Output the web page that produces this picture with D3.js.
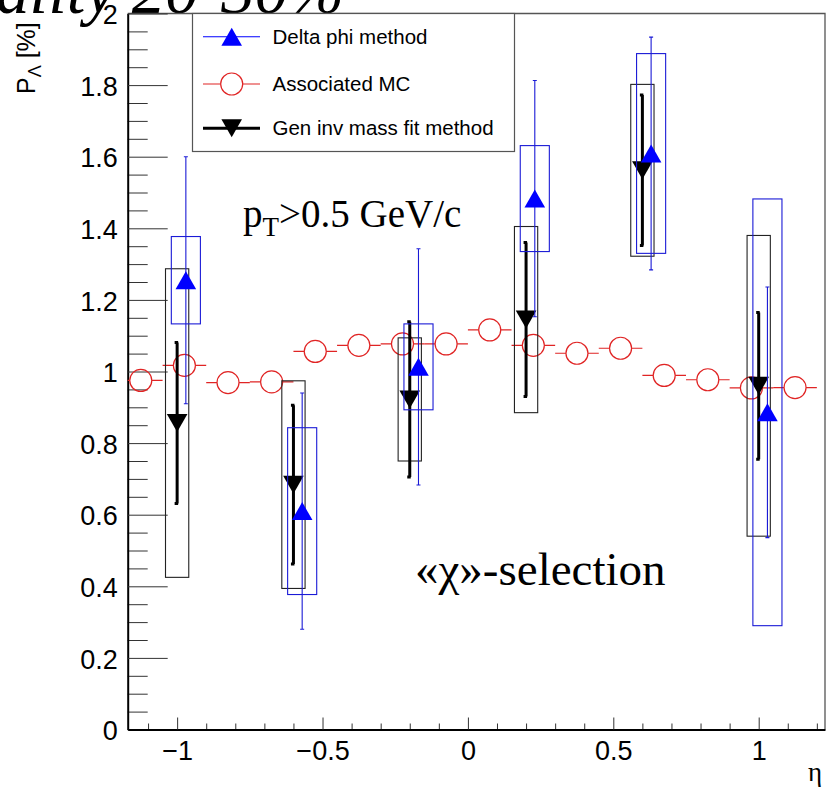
<!DOCTYPE html>
<html>
<head>
<meta charset="utf-8">
<script src="https://cdn.jsdelivr.net/npm/d3@7"></script>
<style>
  body { margin: 0; background: #fff; }
  svg { display: block; }
</style>
</head>
<body>
<svg id="chart" width="826" height="789"></svg>
<script>
// Associated MC: 16 eta bins of width 0.15
const mcEta = [-1.125, -0.975, -0.825, -0.675, -0.525, -0.375, -0.225, -0.075,
               0.075, 0.225, 0.375, 0.525, 0.675, 0.825, 0.975, 1.125];
const mcValues = [0.975, 1.017, 0.969, 0.971, 1.056, 1.073, 1.077, 1.077,
                  1.116, 1.073, 1.051, 1.065, 0.989, 0.977, 0.954, 0.955];
const mcHalfBin = 0.075;

// Delta phi method
const dphiEta = [-0.97, -0.57, -0.17, 0.23, 0.63, 1.03];
const dphiValues = [1.255, 0.61, 1.013, 1.483, 1.609, 0.886];
const dphiStat = [0.345, 0.33, 0.33, 0.33, 0.325, 0.35];
const dphiSys = [0.122, 0.233, 0.12, 0.148, 0.279, 0.596];
const dphiBoxHalf = 0.05;

// Gen inv mass fit method
const fitEta = [-1.0, -0.6, -0.2, 0.2, 0.6, 1.0];
const fitValues = [0.856, 0.684, 0.922, 1.145, 1.562, 0.96];
const fitStat = [0.225, 0.222, 0.217, 0.215, 0.21, 0.205];
const fitSys = [0.431, 0.29, 0.172, 0.26, 0.24, 0.42];
const fitBoxHalf = 0.04;

// Axis ticks
const xMajorTicks = [-1, -0.5, 0, 0.5, 1];
const xTickLabels = ["\u22121", "\u22120.5", "0", "0.5", "1"];
const xMinorTicks = [-1.1, -0.9, -0.8, -0.7, -0.6, -0.4, -0.3, -0.2, -0.1,
                     0.1, 0.2, 0.3, 0.4, 0.6, 0.7, 0.8, 0.9, 1.1, 1.2];
const yMajorTicks = [0, 0.2, 0.4, 0.6, 0.8, 1, 1.2, 1.4, 1.6, 1.8, 2];
const yTickLabels = ["0", "0.2", "0.4", "0.6", "0.8", "1", "1.2", "1.4", "1.6", "1.8", "2"];
const yMinorTicks = d3.range(0, 40).map(i => i * 0.05).filter(v => Math.round(v * 100) % 20 !== 0);

const legendLabels = ["Delta phi method", "Associated MC", "Gen inv mass fit method"];

const SANS = "'Liberation Sans', Arial, Helvetica, sans-serif";
const SERIF = "'Liberation Serif', 'Times New Roman', serif";
const BLUE = "#0000ff";
const BLUE_LINE = "#1a1ad6";
const RED = "#e02424";

const svg = d3.select("#chart");
const plotL = 127.7, plotR = 825, plotT = 13.5, plotB = 729.5;

const x = d3.scaleLinear().domain([-1.17, 1.228]).range([plotL, plotR]);
const y = d3.scaleLinear().domain([0, 2]).range([plotB, plotT]);

// Title line running off the top edge
svg.append("text")
  .attr("x", 344).attr("y", 13)
  .attr("text-anchor", "end")
  .style("font-family", SERIF).style("font-style", "italic")
  .style("font-size", "67px").attr("fill", "#000")
  .text("Centrality 20-30%");

// Frame (top and right)
svg.append("path")
  .attr("d", `M${plotL},${plotT}H${plotR}V${plotB}`)
  .attr("fill", "none").attr("stroke", "#555").attr("stroke-width", 1.3);

svg.append("clipPath").attr("id", "plotClip")
  .append("rect").attr("x", plotL).attr("y", plotT)
  .attr("width", plotR - plotL).attr("height", plotB - plotT);

// Y axis
const yMinor = d3.axisLeft(y).tickValues(yMinorTicks).tickSize(-20).tickFormat("").tickSizeOuter(0);
svg.append("g").attr("transform", `translate(${plotL},0)`).call(yMinor)
  .call(g => g.select(".domain").remove())
  .call(g => g.selectAll("line").attr("stroke", "#333").attr("stroke-width", 1));

const yMajor = d3.axisLeft(y).tickValues(yMajorTicks).tickSize(-40).tickPadding(10)
  .tickSizeOuter(0).tickFormat((d, i) => yTickLabels[i]);
svg.append("g").attr("transform", `translate(${plotL},0)`).call(yMajor)
  .call(g => g.select(".domain").attr("stroke", "#000").attr("stroke-width", 2))
  .call(g => g.selectAll("line").attr("stroke", "#333").attr("stroke-width", 1))
  .call(g => g.selectAll("text").attr("fill", "#000")
    .style("font-family", SANS).style("font-size", "27px").attr("dy", "0.38em"));

// X axis
const xMinor = d3.axisBottom(x).tickValues(xMinorTicks).tickSize(-6).tickFormat("").tickSizeOuter(0);
svg.append("g").attr("transform", `translate(0,${plotB})`).call(xMinor)
  .call(g => g.select(".domain").remove())
  .call(g => g.selectAll("line").attr("stroke", "#333").attr("stroke-width", 1));

const xMajor = d3.axisBottom(x).tickValues(xMajorTicks).tickSize(-12).tickPadding(11)
  .tickSizeOuter(0).tickFormat((d, i) => xTickLabels[i]);
svg.append("g").attr("transform", `translate(0,${plotB})`).call(xMajor)
  .call(g => g.select(".domain").attr("stroke", "#000").attr("stroke-width", 2))
  .call(g => g.selectAll("line").attr("stroke", "#333").attr("stroke-width", 1))
  .call(g => g.selectAll("text").attr("fill", "#000")
    .style("font-family", SANS).style("font-size", "27px"));

// Axis titles
svg.append("text")
  .attr("x", 822).attr("y", 781).attr("text-anchor", "end")
  .style("font-family", SERIF).style("font-size", "27px").text("\u03b7");

const yTitle = svg.append("text")
  .attr("transform", "translate(35,94) rotate(-90)")
  .style("font-family", SANS).style("font-size", "25px");
yTitle.append("tspan").text("P");
yTitle.append("tspan").attr("dy", 6).style("font-size", "18px").text("\u039b");
yTitle.append("tspan").attr("dy", -6).text(" [%]");

// Plot content
const plot = svg.append("g").attr("clip-path", "url(#plotClip)");

const upTri = "M0,-9L10.3,9L-10.3,9Z";
const downTri = "M0,9L10.3,-9L-10.3,-9Z";
const mcR = 11;

// Associated MC: open circles with bin-width bars
const mcData = mcEta.map((e, i) => ({ e, v: mcValues[i] }));
const mcG = plot.append("g");
mcG.selectAll("path.bar").data(mcData).join("path")
  .attr("class", "bar")
  .attr("d", d => {
    const cx = x(d.e), cy = y(d.v);
    return `M${x(d.e - mcHalfBin)},${cy}H${cx - mcR}M${cx + mcR},${cy}H${x(d.e + mcHalfBin)}`;
  })
  .attr("stroke", RED).attr("stroke-width", 1.2).attr("fill", "none");
mcG.selectAll("circle").data(mcData).join("circle")
  .attr("cx", d => x(d.e)).attr("cy", d => y(d.v)).attr("r", mcR)
  .attr("fill", "none").attr("stroke", RED).attr("stroke-width", 1.2);

// Gen inv mass fit method
const fitData = fitEta.map((e, i) => ({ e, v: fitValues[i], s: fitStat[i], sy: fitSys[i] }));
const fitG = plot.append("g");
fitG.selectAll("rect").data(fitData).join("rect")
  .attr("x", d => x(d.e - fitBoxHalf)).attr("y", d => y(d.v + d.sy))
  .attr("width", d => x(d.e + fitBoxHalf) - x(d.e - fitBoxHalf))
  .attr("height", d => y(d.v - d.sy) - y(d.v + d.sy))
  .attr("fill", "none").attr("stroke", "#222").attr("stroke-width", 1.1);
fitG.selectAll("path.err").data(fitData).join("path")
  .attr("class", "err")
  .attr("d", d => `M${x(d.e)},${y(d.v + d.s)}V${y(d.v - d.s)}` +
    `M${x(d.e) - 2.5},${y(d.v + d.s)}H${x(d.e) + 1}M${x(d.e) - 2.5},${y(d.v - d.s)}H${x(d.e) + 1}`)
  .attr("stroke", "#000").attr("stroke-width", 3).attr("fill", "none");
fitG.selectAll("path.mk").data(fitData).join("path")
  .attr("class", "mk")
  .attr("transform", d => `translate(${x(d.e)},${y(d.v)})`)
  .attr("d", downTri).attr("fill", "#000");

// Delta phi method
const dphiData = dphiEta.map((e, i) => ({ e, v: dphiValues[i], s: dphiStat[i], sy: dphiSys[i] }));
const dphiG = plot.append("g");
dphiG.selectAll("rect").data(dphiData).join("rect")
  .attr("x", d => x(d.e - dphiBoxHalf)).attr("y", d => y(d.v + d.sy))
  .attr("width", d => x(d.e + dphiBoxHalf) - x(d.e - dphiBoxHalf))
  .attr("height", d => y(d.v - d.sy) - y(d.v + d.sy))
  .attr("fill", "none").attr("stroke", BLUE_LINE).attr("stroke-width", 1.1);
dphiG.selectAll("path.err").data(dphiData).join("path")
  .attr("class", "err")
  .attr("d", d => `M${x(d.e)},${y(d.v + d.s)}V${y(d.v - d.s)}` +
    `M${x(d.e) - 2},${y(d.v + d.s)}H${x(d.e) + 2}M${x(d.e) - 2},${y(d.v - d.s)}H${x(d.e) + 2}`)
  .attr("stroke", BLUE_LINE).attr("stroke-width", 1.1).attr("fill", "none");
dphiG.selectAll("path.mk").data(dphiData).join("path")
  .attr("class", "mk")
  .attr("transform", d => `translate(${x(d.e)},${y(d.v)})`)
  .attr("d", upTri).attr("fill", BLUE);

// Annotations
const ptText = svg.append("text")
  .attr("x", 243).attr("y", 227)
  .style("font-family", SERIF).style("font-size", "39px");
ptText.append("tspan").text("p");
ptText.append("tspan").attr("dy", 9).style("font-size", "27px").text("T");
ptText.append("tspan").attr("dy", -9).text(">0.5 GeV/c");

svg.append("text")
  .attr("x", 415).attr("y", 585)
  .style("font-family", SERIF).style("font-size", "47px")
  .text("\u00ab\u03c7\u00bb-selection");

// Legend
const legend = svg.append("g");
legend.append("rect")
  .attr("x", 192.5).attr("y", 13.5).attr("width", 322).attr("height", 138)
  .attr("fill", "#fff").attr("stroke", "#555").attr("stroke-width", 1.2);
const legRows = [36.7, 84, 128.3];
const legX0 = 203, legX1 = 260, legMx = 231.7;

legend.append("line").attr("x1", legX0).attr("x2", legX1)
  .attr("y1", legRows[0]).attr("y2", legRows[0]).attr("stroke", BLUE).attr("stroke-width", 1.1);
legend.append("path").attr("transform", `translate(${legMx},${legRows[0]})`)
  .attr("d", upTri).attr("fill", BLUE);

legend.append("path")
  .attr("d", `M${legX0},${legRows[1]}H${legMx - mcR}M${legMx + mcR},${legRows[1]}H${legX1}`)
  .attr("stroke", RED).attr("stroke-width", 1.2);
legend.append("circle").attr("cx", legMx).attr("cy", legRows[1]).attr("r", mcR)
  .attr("fill", "none").attr("stroke", RED).attr("stroke-width", 1.2);

legend.append("line").attr("x1", legX0).attr("x2", legX1)
  .attr("y1", legRows[2]).attr("y2", legRows[2]).attr("stroke", "#000").attr("stroke-width", 3);
legend.append("path").attr("transform", `translate(${legMx},${legRows[2]})`)
  .attr("d", downTri).attr("fill", "#000");

legend.selectAll("text.lab").data(legendLabels).join("text")
  .attr("class", "lab")
  .attr("x", 272.5).attr("y", (d, i) => legRows[i] + 7)
  .style("font-family", SANS).style("font-size", "20.5px").attr("fill", "#000")
  .text(d => d);
</script>
</body>
</html>
